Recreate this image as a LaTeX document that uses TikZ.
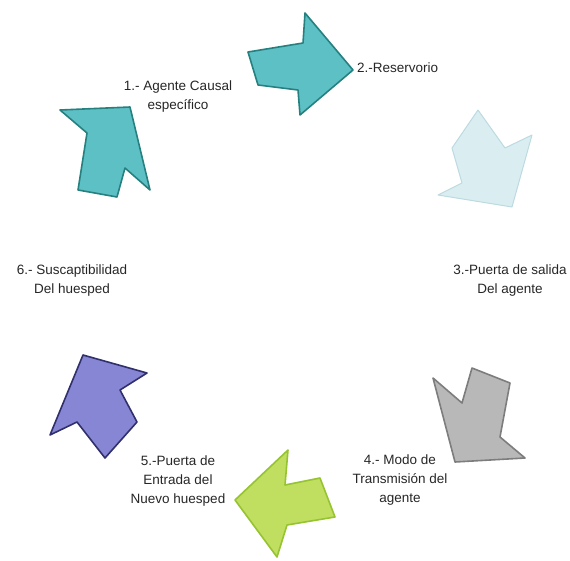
\documentclass[tikz,border=0pt]{standalone}
\usepackage{fontspec}
\setmainfont{Liberation Sans}
\definecolor{tealfill}{RGB}{92,192,196}
\definecolor{tealline}{RGB}{38,128,128}
\definecolor{palefill}{RGB}{218,238,242}
\definecolor{paleline}{RGB}{188,218,224}
\definecolor{grayfill}{RGB}{184,184,184}
\definecolor{grayline}{RGB}{125,125,125}
\definecolor{limefill}{RGB}{192,222,96}
\definecolor{limeline}{RGB}{150,196,48}
\definecolor{violetfill}{RGB}{134,134,212}
\definecolor{violetline}{RGB}{48,48,108}
\begin{document}
\begin{tikzpicture}[x=1pt,y=-1pt,
  flecha/.style={line width=1.6pt,line join=round},
  etiqueta/.style={align=center,font=\fontsize{13.5}{19}\selectfont,text=black!85,inner sep=0pt}]
\useasboundingbox (0,0) rectangle (570,560);
\filldraw[flecha,fill=tealfill,draw=tealline] (130,107) -- (60,110) -- (87,133) -- (78,190) -- (117,197) -- (125,168) -- (150,190) -- cycle;
\filldraw[flecha,fill=tealfill,draw=tealline] (353,70) -- (305,13) -- (303,43) -- (248,52) -- (258,85) -- (298,90) -- (300,115) -- cycle;
\filldraw[flecha,line width=1pt,fill=palefill,draw=paleline] (512,207) -- (532,135) -- (505,148) -- (478,110) -- (452,148) -- (462,183) -- (438,195) -- cycle;
\filldraw[flecha,fill=grayfill,draw=grayline] (455,462) -- (433,378) -- (462,403) -- (472,368) -- (510,383) -- (500,437) -- (525,458) -- cycle;
\filldraw[flecha,fill=limefill,draw=limeline] (235,500) -- (288,450) -- (285,485) -- (320,478) -- (335,517) -- (287,525) -- (277,557) -- cycle;
\filldraw[flecha,fill=violetfill,draw=violetline] (83,355) -- (147,373) -- (120,390) -- (137,422) -- (105,458) -- (77,422) -- (50,435) -- cycle;
\node[etiqueta] (causal) at (178,97) {1.- Agente Causal\\específico};
\node[etiqueta,anchor=west] (reservorio) at (357,68) {2.-Reservorio};
\node[etiqueta] (salida) at (510,281) {3.-Puerta de salida\\Del agente};
\node[etiqueta] (modo) at (400,480) {4.- Modo de\\Transmisión del\\agente};
\node[etiqueta] (entrada) at (178,481) {5.-Puerta de\\Entrada del\\Nuevo huesped};
\node[etiqueta] (susceptibilidad) at (72,281) {6.- Suscaptibilidad\\Del huesped};
\end{tikzpicture}
\end{document}
